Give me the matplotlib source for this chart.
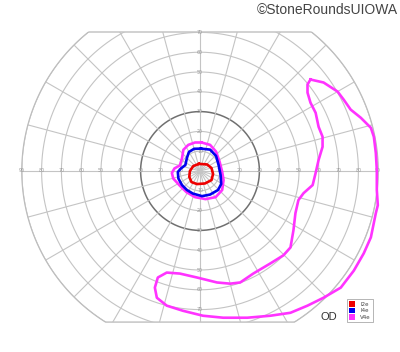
import numpy as np
import matplotlib
matplotlib.use('Agg')
import matplotlib.pyplot as plt
from matplotlib.patches import Polygon, Patch

# isopters, degrees of visual field (x: + temporal/right, y: + superior)
i2e_x = [-0.5, 3.6, 5.8, 6.6, 5.8, 2.5, -1.5, -4.3, -5.4, -5.1, -3.4]
i2e_y = [3.6, 3.3, 1.5, -1.5, -4.6, -6.3, -6.6, -5.6, -3.0, 0.0, 2.5]

i4e_x = [0.5, 5.1, 8.1, 9.4, 10.4, 10.7, 9.1, 5.1, 1.0, -3.6, -6.6, -9.1, -10.9, -11.2,
         -9.6, -7.4, -6.6, -5.6, -3.0]
i4e_y = [11.3, 10.8, 7.6, 3.0, -2.0, -6.6, -9.6, -11.9, -12.7, -11.4, -9.6, -7.1, -3.8, -0.5,
         1.3, 3.0, 6.6, 9.6, 11.2]

v4e_c_x = [0.8, 5.1, 8.1, 9.9, 11.2, 11.9, 11.2, 7.9, 2.8, -2.5, -6.8, -10.2, -13.5, -14.2,
           -12.9, -10.2, -9.1, -8.4, -5.9, -2.5]
v4e_c_y = [14.4, 13.2, 9.8, 4.7, -0.4, -4.6, -9.6, -13.2, -14.2, -13.2, -10.7, -7.4, -3.8, -1.0,
           1.3, 2.8, 6.4, 10.7, 13.2, 14.4]

v4e_p_x = [55.8, 62.4, 69.5, 72.6, 76.1, 81.2, 86.3, 87.8, 88.8, 89.3, 89.3, 89.8, 88.8, 86.3,
           82.7, 77.7, 71.1, 62.4, 54.3, 45.7, 35.5, 23.9, 11.7, 1.5, -8.6, -16.8, -21.8, -22.8,
           -21.3, -16.8, -10.2, -1.5, 8.6, 15.2, 20.3, 26.9, 35.5, 42.1, 45.7, 47.2, 48.2, 49.7,
           52.3, 56.9, 58.4, 59.9, 61.9, 61.9, 59.9, 58.4, 55.8, 54.3, 54.3]
v4e_p_y = [46.2, 44.7, 40.1, 36.0, 31.0, 26.9, 21.8, 17.3, 9.1, 0.5, -9.6, -17.3, -21.3, -33.5,
           -41.6, -50.3, -58.9, -64.0, -68.0, -71.6, -73.1, -74.1, -74.1, -73.1, -70.6, -68.0,
           -64.0, -58.9, -53.8, -51.3, -51.8, -53.8, -56.3, -56.9, -56.3, -51.8, -46.7, -42.6,
           -38.6, -29.9, -21.3, -14.7, -11.2, -7.1, -1.0, 5.6, 12.2, 17.3, 22.3, 29.4, 34.5,
           39.6, 43.7]

labels = ['I2e', 'I4e', 'V4e']
colors = ['#ee0000', '#0000ee', '#ff33ff']

TOP, BOTTOM = 70.2, -76.3
s = 1.98  # px per degree

fig = plt.figure(figsize=(4, 3.52), dpi=100)
ax = fig.add_axes([0, 0, 1, 1])
ax.set_xlim(-200 / s, 200 / s)
ax.set_ylim(-181 / s, 171 / s)
ax.axis('off')

t = np.linspace(0, 2 * np.pi, 721)
bx = 90 * np.cos(t)
by = np.clip(90 * np.sin(t), BOTTOM, TOP)
region = Polygon(np.column_stack([bx, by]), closed=True, facecolor='none',
                 edgecolor='#b8b8b8', lw=0.9, zorder=1)
ax.add_patch(region)

for r in range(10, 100, 10):
    if r == 30:
        c, w = '#707070', 1.1
    else:
        c, w = '#c4c4c4', 0.8
    ln, = ax.plot(r * np.cos(t), r * np.sin(t), color=c, lw=w, zorder=1)
    ln.set_clip_path(region)

for a in np.deg2rad(np.arange(0, 360, 15)):
    ln, = ax.plot([0, 95 * np.cos(a)], [0, 95 * np.sin(a)], color='#c4c4c4', lw=0.8, zorder=1)
    ln.set_clip_path(region)

for r in range(10, 100, 10):
    for sx in (-1, 1):
        ax.text(sx * r, 0.3, str(r), fontsize=3.4, color='#999999', ha='center', va='center',
                zorder=2)
for r in range(10, 80, 10):
    for sy in (-1, 1):
        ax.text(0, sy * r, str(r), fontsize=3.4, color='#999999', ha='center', va='center',
                zorder=2)

def loop(x, y, c):
    ax.plot(x + x[:1], y + y[:1], color=c, lw=1.9, solid_joinstyle='round', zorder=3)

loop(v4e_p_x, v4e_p_y, colors[2])
loop(v4e_c_x, v4e_c_y, colors[2])
loop(i4e_x, i4e_y, colors[1])
loop(i2e_x, i2e_y, colors[0])

fig.text(0.995, 0.972, '\u00a9StoneRoundsUIOWA', ha='right', va='center', fontsize=10,
         family='Liberation Sans', color='#444444')
fig.text(0.8225, 0.099, 'OD', ha='center', va='center', fontsize=8,
         family='Liberation Sans', color='#333333')

handles = [Patch(facecolor=c, edgecolor='none') for c in colors]
leg = ax.legend(handles, labels, loc='lower right', bbox_to_anchor=(373 / 400, 1 - 322 / 352),
                bbox_transform=fig.transFigure, fontsize=4, frameon=True, fancybox=False,
                edgecolor='#999999', framealpha=1, borderpad=0.4, handlelength=1.1,
                handleheight=1.1, handletextpad=0.9, labelspacing=0.15, borderaxespad=0)
leg.get_frame().set_linewidth(0.5)
for txt in leg.get_texts():
    txt.set_color('#444444')

fig.savefig('out.png', dpi=100)
